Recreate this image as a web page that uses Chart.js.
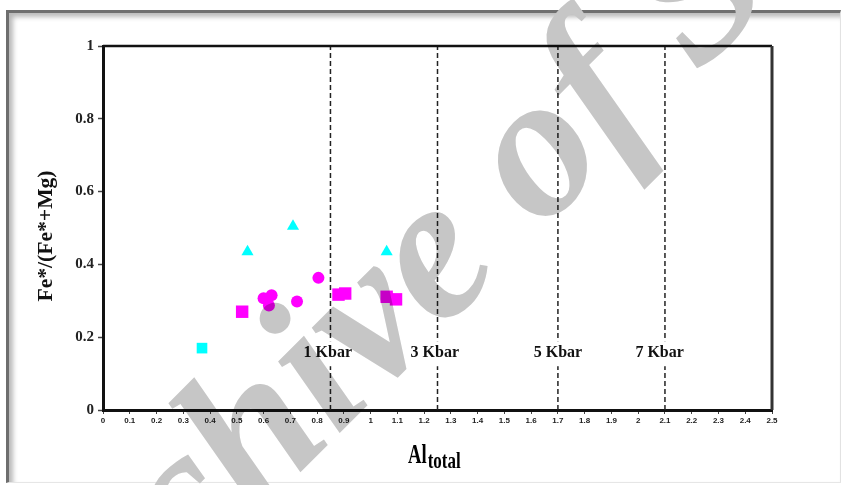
<!DOCTYPE html>
<html>
<head>
<meta charset="utf-8">
<script src="https://cdn.jsdelivr.net/npm/chart.js@4.4.1/dist/chart.umd.min.js"></script>
<style>
  body { margin: 0; background: #fff; }
  #wrap { position: relative; width: 846px; height: 485px; overflow: hidden; }
  #frame {
    position: absolute; left: 6px; top: 10px; right: 5px; bottom: 2px;
    border-top: 3px solid #6e6e6e; border-left: 3px solid #6e6e6e;
    border-right: 1px solid #e2e2e2; border-bottom: 1px solid #e6e6e6;
    box-shadow: inset 4px 4px 5px rgba(0,0,0,0.28);
  }
  #chart { position: absolute; left: 0; top: 0; }
</style>
</head>
<body>
<div id="wrap">
  <div id="frame"></div>
  <canvas id="chart" width="846" height="485"></canvas>
</div>
<script>
// cyan samples
const cyanSquareX = [0.37];
const cyanSquareY = [0.17];
const cyanTriangleX = [0.54, 0.71, 1.06];
const cyanTriangleY = [0.435, 0.505, 0.435];

// magenta samples
const magentaSquareX = [0.52, 0.88, 0.905, 1.06, 1.095];
const magentaSquareY = [0.27, 0.317, 0.32, 0.311, 0.304];
const magentaCircleX = [0.60, 0.63, 0.62, 0.725, 0.805];
const magentaCircleY = [0.307, 0.315, 0.287, 0.298, 0.363];

// pressure isobars
const kbarX = [0.85, 1.25, 1.7, 2.1];
const kbarLabels = ['1 Kbar', '3 Kbar', '5 Kbar', '7 Kbar'];
const kbarLabelX = [0.84, 1.24, 1.70, 2.08];
const kbarLabelY = 0.156;

const xTitle = 'Al';
const xTitleSub = 'total';
const yTitle = 'Fe*/(Fe*+Mg)';
const watermark = 'Archive of SID';

function pts(xs, ys) {
  return xs.map(function(x, i) { return { x: x, y: ys[i] }; });
}

const lineSets = kbarX.map(function(x) {
  return {
    type: 'line',
    data: [{ x: x, y: 0 }, { x: x, y: 1 }],
    borderColor: '#222',
    borderWidth: 1.5,
    borderDash: [5, 3],
    pointRadius: 0,
    order: 5
  };
});

const serif = '"Liberation Serif", "Times New Roman", serif';

const extras = {
  id: 'extras',
  afterDatasetsDraw(chart) {
    const ctx = chart.ctx;
    const a = chart.chartArea;
    const xs = chart.scales.x, ys = chart.scales.y;
    ctx.save();
    // top and right edges of the plot box
    ctx.strokeStyle = '#111';
    ctx.lineWidth = 2.5;
    ctx.beginPath();
    ctx.moveTo(a.left, a.top);
    ctx.lineTo(a.right, a.top);
    ctx.stroke();
    ctx.strokeStyle = '#333';
    ctx.lineWidth = 3;
    ctx.beginPath();
    ctx.moveTo(a.right, a.top);
    ctx.lineTo(a.right, a.bottom);
    ctx.stroke();

    // isobar labels on white boxes
    ctx.font = 'bold 16px ' + serif;
    ctx.textAlign = 'center';
    ctx.textBaseline = 'middle';
    kbarLabels.forEach(function(t, i) {
      const px = xs.getPixelForValue(kbarLabelX[i]);
      const py = ys.getPixelForValue(kbarLabelY);
      const w = ctx.measureText(t).width;
      ctx.fillStyle = '#fff';
      ctx.fillRect(px - w / 2 - 3, py - 12, w + 6, 25);
      ctx.fillStyle = '#111';
      ctx.fillText(t, px, py);
    });

    // y title
    ctx.save();
    ctx.translate(47, 236);
    ctx.rotate(-Math.PI / 2);
    ctx.scale(1.08, 1);
    ctx.font = 'bold 20px ' + serif;
    ctx.fillStyle = '#111';
    ctx.textAlign = 'center';
    ctx.textBaseline = 'middle';
    ctx.fillText(yTitle, 0, 0);
    ctx.restore();

    // x title with subscript
    ctx.textAlign = 'left';
    ctx.textBaseline = 'alphabetic';
    ctx.fillStyle = '#000';
    ctx.save();
    ctx.translate(408, 463);
    ctx.scale(1.1, 1.55);
    ctx.font = 'bold 17px ' + serif;
    ctx.fillText(xTitle, 0, 0);
    const wAl = ctx.measureText(xTitle).width * 1.1;
    ctx.restore();
    ctx.save();
    ctx.translate(408 + wAl + 1, 468);
    ctx.scale(1, 1.35);
    ctx.font = 'bold 17px ' + serif;
    ctx.fillText(xTitleSub, 0, 0);
    ctx.restore();
    ctx.restore();
  },
  afterDraw(chart) {
    // watermark on top, multiplied
    const ctx = chart.ctx;
    ctx.save();
    const size = 205;
    ctx.font = 'bold italic ' + size + 'px ' + serif;
    const before = ctx.measureText('Archive ').width;
    const wo = ctx.measureText('o').width;
    const ang = -45 * Math.PI / 180;
    const ux = Math.cos(ang), uy = Math.sin(ang);
    const vx = -Math.sin(ang), vy = Math.cos(ang);
    const cx = 544, cy = 162;
    const d = before + wo / 2;
    const h = 0.23 * size;
    const px = cx - ux * d + vx * h;
    const py = cy - uy * d + vy * h;
    ctx.globalCompositeOperation = 'multiply';
    ctx.fillStyle = 'rgb(198,198,198)';
    ctx.translate(px, py);
    ctx.rotate(ang);
    ctx.textBaseline = 'alphabetic';
    ctx.fillText(watermark, 0, 0);
    ctx.restore();
  }
};

new Chart(document.getElementById('chart'), {
  type: 'scatter',
  data: {
    datasets: [
      { data: pts(cyanSquareX, cyanSquareY), pointStyle: 'rect', pointRadius: 7.5,
        backgroundColor: '#00ffff', borderWidth: 0 },
      { data: pts(cyanTriangleX, cyanTriangleY), pointStyle: 'triangle', pointRadius: 7,
        backgroundColor: '#00ffff', borderWidth: 0 },
      { data: pts(magentaSquareX, magentaSquareY), pointStyle: 'rect', pointRadius: 8.8,
        backgroundColor: '#ff00ff', borderWidth: 0 },
      { data: pts(magentaCircleX, magentaCircleY), pointStyle: 'circle', pointRadius: 6,
        backgroundColor: '#ff00ff', borderWidth: 0 }
    ].concat(lineSets)
  },
  options: {
    responsive: false,
    devicePixelRatio: 1,
    animation: false,
    layout: { padding: { left: 0, top: 46, right: 74, bottom: 0 } },
    plugins: { legend: { display: false }, tooltip: { enabled: false } },
    scales: {
      x: {
        type: 'linear', min: 0, max: 2.5,
        afterFit: function(s) { s.height = 75; },
        border: { display: true, color: '#111', width: 3 },
        grid: { drawOnChartArea: false, drawTicks: true, tickLength: 4, tickColor: '#444', tickWidth: 1 },
        ticks: {
          stepSize: 0.1, autoSkip: false, maxRotation: 0, padding: 2,
          color: '#222', font: { family: 'Arial, "Liberation Sans"', size: 8, weight: 'bold' },
          callback: function(v) { return String(+v.toFixed(1)); }
        }
      },
      y: {
        type: 'linear', min: 0, max: 1,
        afterFit: function(s) { s.width = 103; },
        border: { display: true, color: '#111', width: 3 },
        grid: { drawOnChartArea: false, drawTicks: true, tickLength: 5, tickColor: '#444', tickWidth: 1.5 },
        ticks: {
          stepSize: 0.2, padding: 4,
          color: '#222', font: { family: serif, size: 15, weight: 'bold' },
          callback: function(v) { return String(+v.toFixed(1)); }
        }
      }
    }
  },
  plugins: [extras]
});
</script>
</body>
</html>
